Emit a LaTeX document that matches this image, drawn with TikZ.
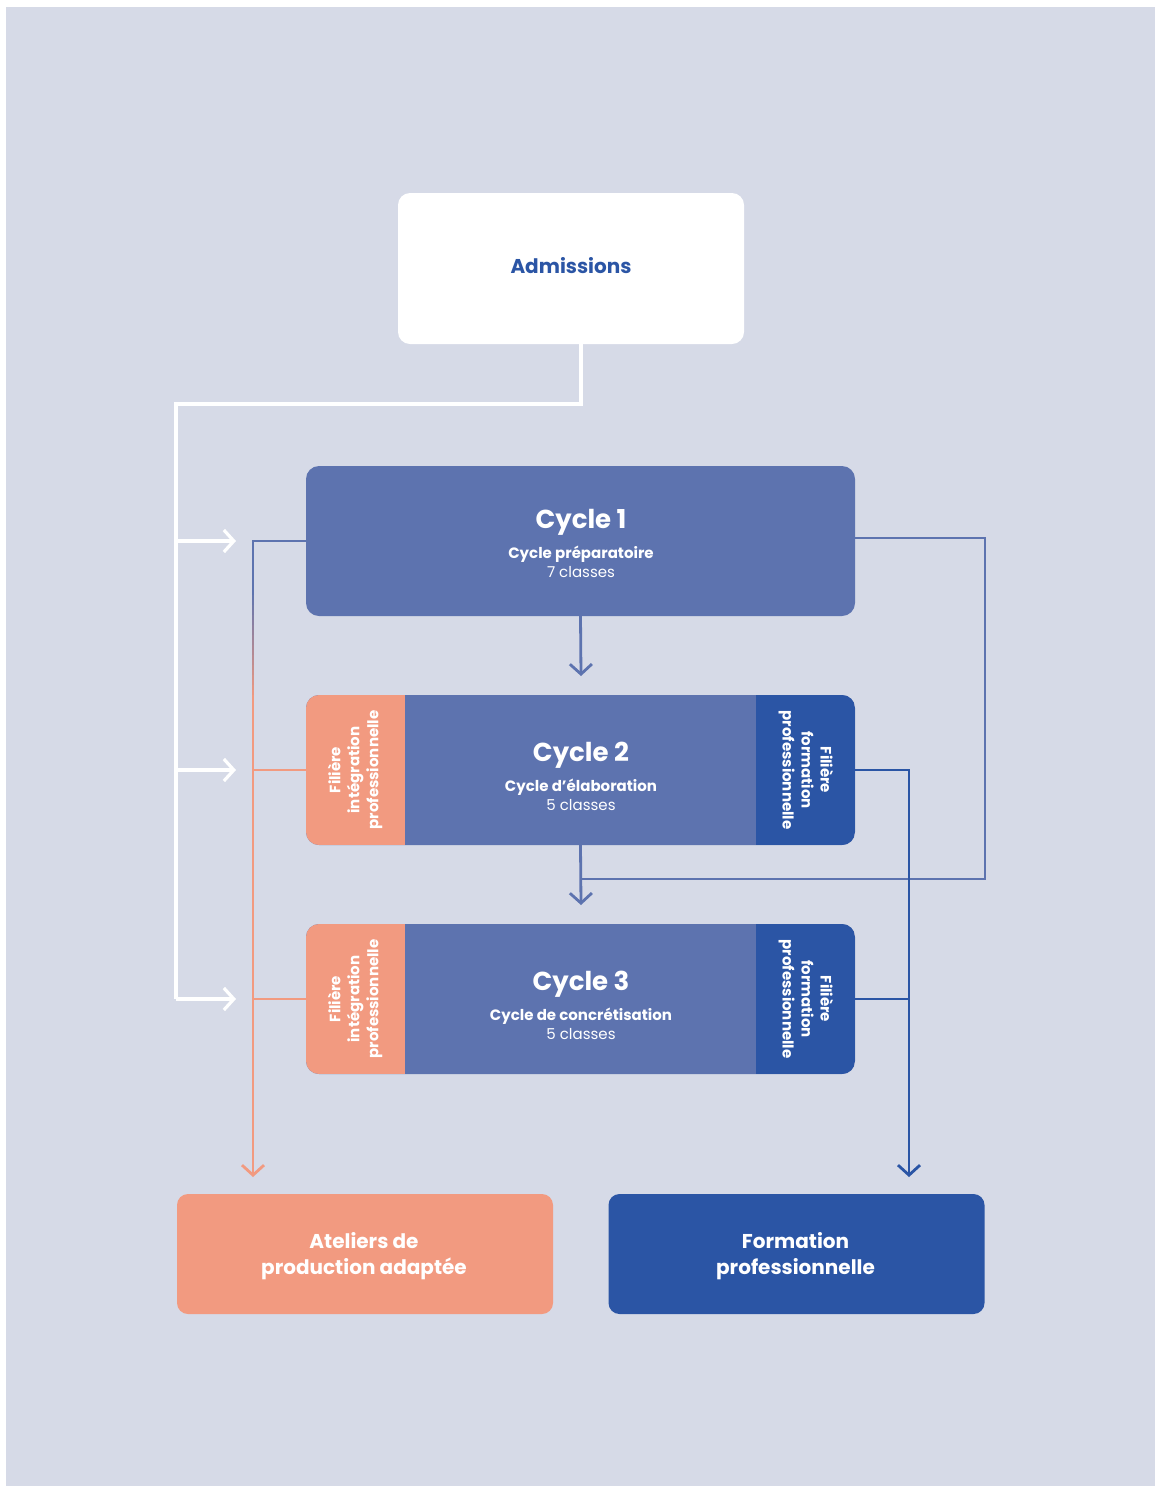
\documentclass[tikz,border=0pt]{standalone}
\usepackage{fontspec}
\setmainfont{Poppins}
\usetikzlibrary{arrows.meta}
\definecolor{bgc}{HTML}{D6DAE7}
\definecolor{midc}{HTML}{5D73AF}
\definecolor{darkc}{HTML}{2B55A5}
\definecolor{salc}{HTML}{F29A80}
\begin{document}
\begin{tikzpicture}[x=1pt,y=-1pt,
  box/.style={rounded corners=13pt, inner sep=0pt, minimum width=549pt, minimum height=150pt},
  endbox/.style={rounded corners=11pt, inner sep=0pt, minimum width=376pt, minimum height=120pt},
  endtxt/.style={text=white, inner sep=0pt, align=center, font=\fontsize{20}{26}\selectfont\bfseries},
  ttl/.style={text=white, inner sep=0pt, font=\fontsize{26}{30}\selectfont\bfseries},
  sub/.style={text=white, inner sep=0pt, font=\fontsize{15}{18}\selectfont\bfseries},
  cls/.style={text=white, inner sep=0pt, font=\fontsize{15}{18}\selectfont},
  side/.style={text=white, inner sep=0pt, align=center, font=\fontsize{15}{19}\selectfont\bfseries},
  tip/.style={-{Straight Barb[length=10pt,width=22pt]}},
  wline/.style={draw=white, line width=3.2pt},
  bline/.style={draw=midc, line width=2.8pt},
  dline/.style={draw=darkc, line width=2.8pt},
  sline/.style={draw=salc, line width=2.8pt}]
\useasboundingbox (0,0) rectangle (1157,1486);
\fill[white] (0,0) rectangle (1157,1486);
\fill[bgc] (6,7) rectangle (1155,1486);

% Admissions
\node[fill=white, rounded corners=12pt, minimum width=346pt, minimum height=151pt, inner sep=0pt] (adm) at (571,268.5) {};
\node[text=darkc, inner sep=0pt, font=\fontsize{20}{24}\selectfont\bfseries] (admt) at (571,266) {Admissions};

% Cycle boxes
\node[box, fill=midc] (c1) at (580.5,541) {};
\node[box, fill=midc] (c2) at (580.5,770) {};
\node[box, fill=midc] (c3) at (580.5,999) {};
\foreach \y in {695,924}{
  \begin{scope}
    \clip[rounded corners=13pt] (306,\y) rectangle (855,\y+150);
    \fill[salc] (306,\y) rectangle (405,\y+150);
    \fill[darkc] (756,\y) rectangle (855,\y+150);
  \end{scope}
}

% Texts
\node[ttl] (t1) at (581,522) {Cycle 1};
\node[sub] (s1) at (581,554) {Cycle préparatoire};
\node[cls] (k1) at (581,572) {7 classes};
\node[ttl] (t2) at (581,755) {Cycle 2};
\node[sub] (s2) at (581,787) {Cycle d’élaboration};
\node[cls] (k2) at (581,805) {5 classes};
\node[ttl] (t3) at (581,984) {Cycle 3};
\node[sub] (s3) at (581,1016) {Cycle de concrétisation};
\node[cls] (k3) at (581,1034) {5 classes};

\node[side, rotate=90] (l2) at (355,770) {Filière\\intégration\\professionnelle};
\node[side, rotate=90] (l3) at (355,999) {Filière\\intégration\\professionnelle};
\node[side, rotate=-90] (r2) at (806,770) {Filière\\formation\\professionnelle};
\node[side, rotate=-90] (r3) at (806,999) {Filière\\formation\\professionnelle};

% End boxes
\node[endbox, fill=salc] (ap) at (365,1254) {};
\node[endbox, fill=darkc] (fp) at (796.5,1254) {};
\node[endtxt] (apt) at (364,1256) {Ateliers de\\production adaptée};
\node[endtxt] (fpt) at (795.5,1256) {Formation\\professionnelle};

% White admissions line
\coordinate (w0) at (581,344);
\coordinate (w1) at (581,404);
\coordinate (w2) at (176,404);
\coordinate (w3) at (176,999);
\coordinate (a1) at (236,541);
\coordinate (a2) at (236,770);
\coordinate (a3) at (236,999);
\draw[wline] (w0) -- (w1) -- (w2) -- (w3);
\draw[wline, tip] (176,541) -- (a1);
\draw[wline, tip] (176,770) -- (a2);
\draw[wline, tip] (w3) -- (a3);

% Cycle arrows
\coordinate (d1) at (581,676);
\coordinate (d2) at (581,905);
\draw[bline, tip] (c1.south) -- (d1);
\draw[bline, tip] (c2.south) -- (d2);

% right loop
\coordinate (rl1) at (985,538);
\coordinate (rl2) at (985,879);
\coordinate (rl3) at (581,879);
\draw[bline] (855,538) -- (rl1) -- (rl2) -- (rl3);

% dark blue line to formation
\coordinate (fb) at (909,1177);
\coordinate (fj) at (909,999);
\draw[dline] (c2.east) -| (fj);
\draw[dline, tip] (fj) -- (fb);
\draw[dline] (c3.east) -- (fj);

% left line to ateliers
\coordinate (lb) at (253,1177);
\coordinate (lt) at (253,541);
\draw[bline] (c1.west) -- (lt) -- (253,591);
\foreach \i in {0,...,21}{
  \pgfmathsetmacro{\pc}{100-\i*100/21}
  \draw[line width=2.8pt, draw=midc!\pc!salc] (253,590+5*\i) -- (253,596+5*\i);
}
\draw[sline, tip] (253,700) -- (lb);
\draw[sline] (c2.west) -- (253,770);
\draw[sline] (c3.west) -- (253,999);
\end{tikzpicture}
\end{document}
